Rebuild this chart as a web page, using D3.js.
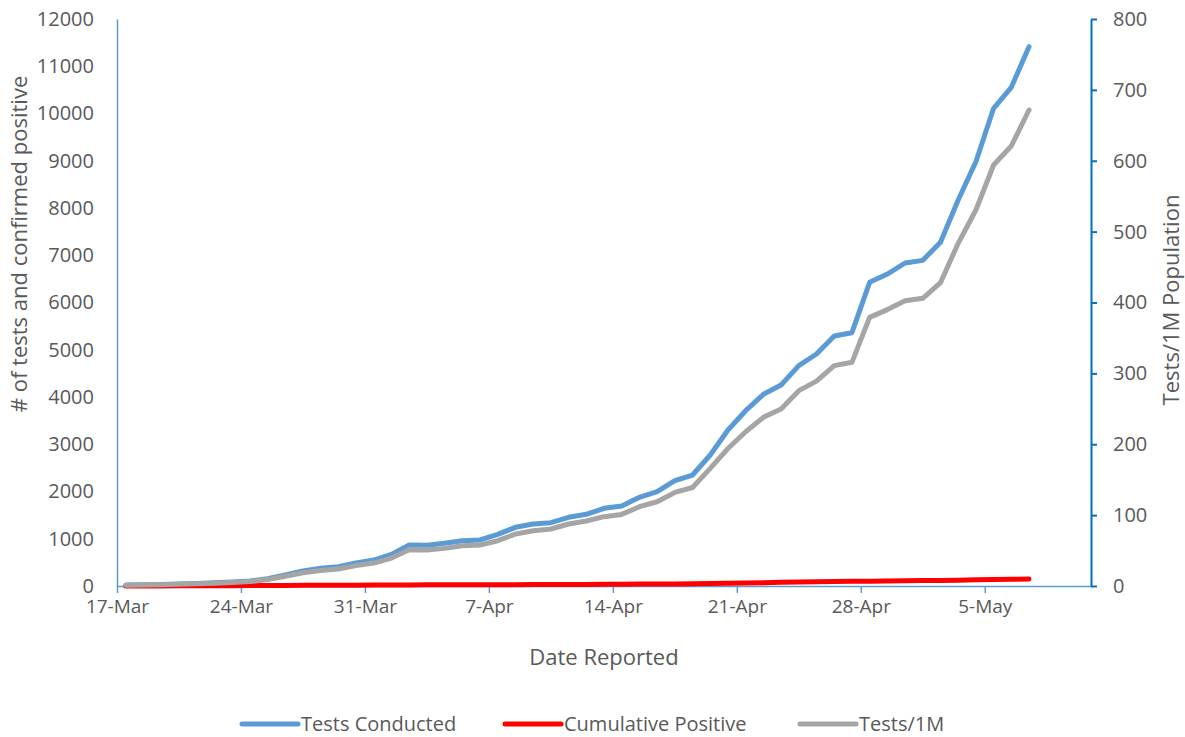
<!DOCTYPE html>
<html>
<head>
<meta charset="utf-8">
<script src="https://cdn.jsdelivr.net/npm/d3@7"></script>
<style>
    body { margin: 0; background: #fff; }
    svg text { font-family: "Open Sans", sans-serif; fill: #595959; }
</style>
</head>
<body>
<svg id="chart" width="1185" height="737"></svg>
<script>
// first reported day, one value per day after that
const startDate = '2020-03-17';

const testsConducted = [
    21, 25, 32, 40, 52, 68, 85, 106, 155, 233,
    317, 374, 409, 490, 550, 670, 868, 862, 903, 959,
    974, 1094, 1242, 1312, 1340, 1454, 1517, 1644, 1693, 1877,
    1996, 2229, 2349, 2772, 3302, 3710, 4057, 4254, 4663, 4910,
    5291, 5361, 6427, 6603, 6836, 6892, 7276, 8169, 8980, 10110,
    10554, 11414
];

const cumulativePositive = [
    1, 1, 2, 3, 4, 6, 7, 8, 10, 12,
    14, 16, 17, 18, 20, 22, 23, 24, 25, 26,
    27, 28, 29, 30, 31, 32, 34, 36, 38, 40,
    42, 44, 48, 52, 58, 63, 70, 78, 85, 90,
    94, 98, 101, 105, 110, 114, 118, 124, 130, 136,
    142, 148
];

const testsPer1M = [
    1.2, 1.5, 1.9, 2.4, 3.1, 4.0, 5.0, 6.2, 9.1, 13.7,
    18.6, 22, 24, 28.8, 32.4, 39.4, 51, 50.7, 53.1, 56.9,
    57.8, 63.9, 73.4, 78, 80.4, 87.5, 91.7, 97.8, 101, 111.9,
    118.9, 132, 139, 166, 194, 217.7, 238, 249.7, 275.6, 289,
    310.9, 315.6, 379, 390, 402.5, 405.9, 428, 483.5, 530.5, 594,
    620.8, 671.6
];

const xTickLabels = ['17-Mar', '24-Mar', '31-Mar', '7-Apr', '14-Apr', '21-Apr', '28-Apr', '5-May'];
const leftTicks = [0, 1000, 2000, 3000, 4000, 5000, 6000, 7000, 8000, 9000, 10000, 11000, 12000];
const rightTicks = [0, 100, 200, 300, 400, 500, 600, 700, 800];

const seriesNames = ['Tests Conducted', 'Cumulative Positive', 'Tests/1M'];
const seriesColors = ['#5b9bd5', '#ff0000', '#a5a5a5'];

const plot = { left: 117, right: 1091, top: 19, bottom: 586 };

const parseDay = d3.utcParse('%Y-%m-%d');
const parseTick = d3.utcParse('%d-%b-%Y');
const day0 = parseDay(startDate);
const dates = testsConducted.map((v, i) => d3.utcHour.offset(d3.utcDay.offset(day0, i), 12));

const svg = d3.select('#chart');

const x = d3.scaleUtc()
    .domain([day0, d3.utcDay.offset(day0, 55)])
    .range([plot.left, plot.right]);

const yLeft = d3.scaleLinear().domain([0, 12000]).range([plot.bottom, plot.top]);
const yRight = d3.scaleLinear().domain([0, 800]).range([plot.bottom, plot.top]);

// x axis
const xAxis = svg.append('g')
    .attr('transform', 'translate(0,' + plot.bottom + ')')
    .call(d3.axisBottom(x)
        .tickValues(xTickLabels.map(s => parseTick(s + '-2020')))
        .tickFormat((d, i) => xTickLabels[i])
        .tickSize(7)
        .tickSizeOuter(0));
xAxis.select('.domain').attr('stroke', '#5b9bd5').attr('stroke-width', 1.5);
xAxis.selectAll('.tick line').attr('stroke', '#5b9bd5').attr('stroke-width', 1.5);
xAxis.selectAll('.tick text').attr('font-size', 19).attr('dy', '1.05em').attr('y', 7);

// left axis
const leftAxis = svg.append('g')
    .attr('transform', 'translate(' + plot.left + ',0)')
    .call(d3.axisLeft(yLeft).tickValues(leftTicks).tickFormat(d3.format('d'))
        .tickSize(0).tickPadding(23).tickSizeOuter(0));
leftAxis.select('.domain').attr('stroke', '#5b9bd5').attr('stroke-width', 1.5);
leftAxis.selectAll('.tick text').attr('font-size', 20);

// right axis
const rightAxis = svg.append('g')
    .attr('transform', 'translate(' + plot.right + ',0)')
    .call(d3.axisRight(yRight).tickValues(rightTicks).tickSize(6).tickPadding(16).tickSizeOuter(0));
rightAxis.select('.domain').attr('stroke', '#0070c0').attr('stroke-width', 2);
rightAxis.selectAll('.tick line').attr('stroke', '#0070c0').attr('stroke-width', 2);
rightAxis.selectAll('.tick text').attr('font-size', 20);

svg.selectAll('.tick text').style('fill', '#595959');

// axis titles
svg.append('text')
    .attr('transform', 'translate(27,244) rotate(-90)')
    .attr('text-anchor', 'middle')
    .attr('font-size', 22)
    .text('# of tests and confirmed positive');

svg.append('text')
    .attr('transform', 'translate(1179,300) rotate(-90)')
    .attr('text-anchor', 'middle')
    .attr('font-size', 22)
    .text('Tests/1M Population');

svg.append('text')
    .attr('x', (plot.left + plot.right) / 2)
    .attr('y', 665)
    .attr('text-anchor', 'middle')
    .attr('font-size', 22)
    .text('Date Reported');

// lines
const lineLeft = d3.line().x((d, i) => x(dates[i])).y(d => yLeft(d));
const lineRight = d3.line().x((d, i) => x(dates[i])).y(d => yRight(d));

const series = [
    { values: testsConducted, line: lineLeft },
    { values: cumulativePositive, line: lineLeft },
    { values: testsPer1M, line: lineRight }
];

series.forEach(function(s, i) {
    svg.append('path')
        .datum(s.values)
        .attr('fill', 'none')
        .attr('stroke', seriesColors[i])
        .attr('stroke-width', 5)
        .attr('stroke-linecap', 'round')
        .attr('stroke-linejoin', 'round')
        .attr('d', s.line);
});

// legend
const legendX = [242, 505, 800];
const legend = svg.append('g').attr('transform', 'translate(0,724)');
seriesNames.forEach(function(name, i) {
    legend.append('line')
        .attr('x1', legendX[i]).attr('x2', legendX[i] + 56)
        .attr('stroke', seriesColors[i])
        .attr('stroke-width', 5)
        .attr('stroke-linecap', 'round');
    legend.append('text')
        .attr('x', legendX[i] + 59)
        .attr('dy', '0.35em')
        .attr('font-size', 20)
        .text(name);
});
</script>
</body>
</html>
